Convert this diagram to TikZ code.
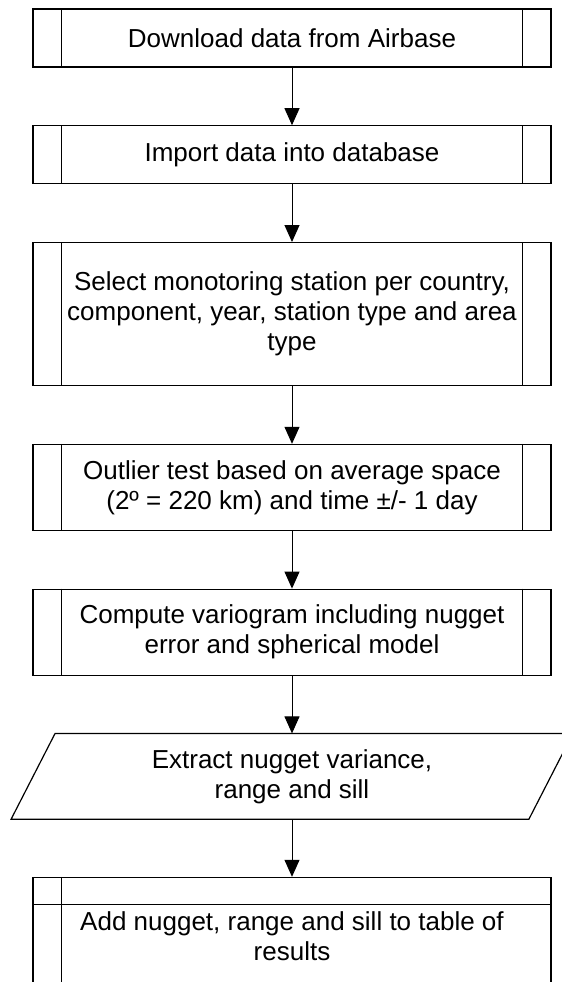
\documentclass[tikz,border=0pt]{standalone}
\usepackage{fontspec}
\setmainfont{Liberation Sans}
\usepackage{tikz}
\usetikzlibrary{positioning,arrows.meta}
\tikzstyle{procbox} = [draw=black, line width=0.6pt, rectangle,
    minimum width=259pt, minimum height=29pt, inner sep=0pt,
    align=center, font=\fontsize{13}{15}\selectfont]
\tikzstyle{iobox} = [rectangle, minimum width=280.5pt, minimum height=42.5pt,
    inner sep=0pt, align=center, font=\fontsize{13}{15}\selectfont]
\tikzstyle{flowline} = [line width=0.5pt, -{Triangle[width=7.5pt,length=8.5pt]}]

\begin{document}
\begin{tikzpicture}[node distance=28.8pt]
\useasboundingbox (0,0) rectangle (281pt,-491pt);
\clip (0,0) rectangle (281pt,-491pt);
\node [procbox] (download) at (146pt,-19pt) {Download data from Airbase};
\node [procbox, below=of download] (import) {Import data into database};
\node [procbox, below=of import, minimum height=71.5pt] (select) {Select monotoring station per country,\\ component, year, station type and area\\ type};
\node [procbox, below=of select, minimum height=43pt] (outlier) {Outlier test based on average space\\ (2º = 220 km) and time ±/- 1 day};
\node [procbox, below=of outlier, minimum height=43pt] (variogram) {Compute variogram including nugget\\ error and spherical model};
\node [iobox, below=of variogram] (extract) {Extract nugget variance,\\ range and sill};
\node [procbox, below=of extract, minimum height=59pt] (store) {Add nugget, range and sill to table of\\ results};
\foreach \n in {download,import,select,outlier,variogram}{
    \draw [line width=0.6pt] ([xshift=14.5pt]\n.north west) -- ([xshift=14.5pt]\n.south west);
    \draw [line width=0.6pt] ([xshift=-14.5pt]\n.north east) -- ([xshift=-14.5pt]\n.south east);
}
\draw [line width=0.6pt] (extract.south west) -- ([xshift=-22pt]extract.south east)
    -- (extract.north east) -- ([xshift=22pt]extract.north west) -- cycle;
\draw [line width=0.6pt] ([xshift=14.5pt]store.north west) -- ([xshift=14.5pt]store.south west);
\draw [line width=0.6pt] ([yshift=-14pt]store.north west) -- ([yshift=-14pt]store.north east);
\draw [flowline] (download) -- (import);
\draw [flowline] (import) -- (select);
\draw [flowline] (select) -- (outlier);
\draw [flowline] (outlier) -- (variogram);
\draw [flowline] (variogram) -- (extract);
\draw [flowline] (extract) -- (store);
\end{tikzpicture}
\end{document}
